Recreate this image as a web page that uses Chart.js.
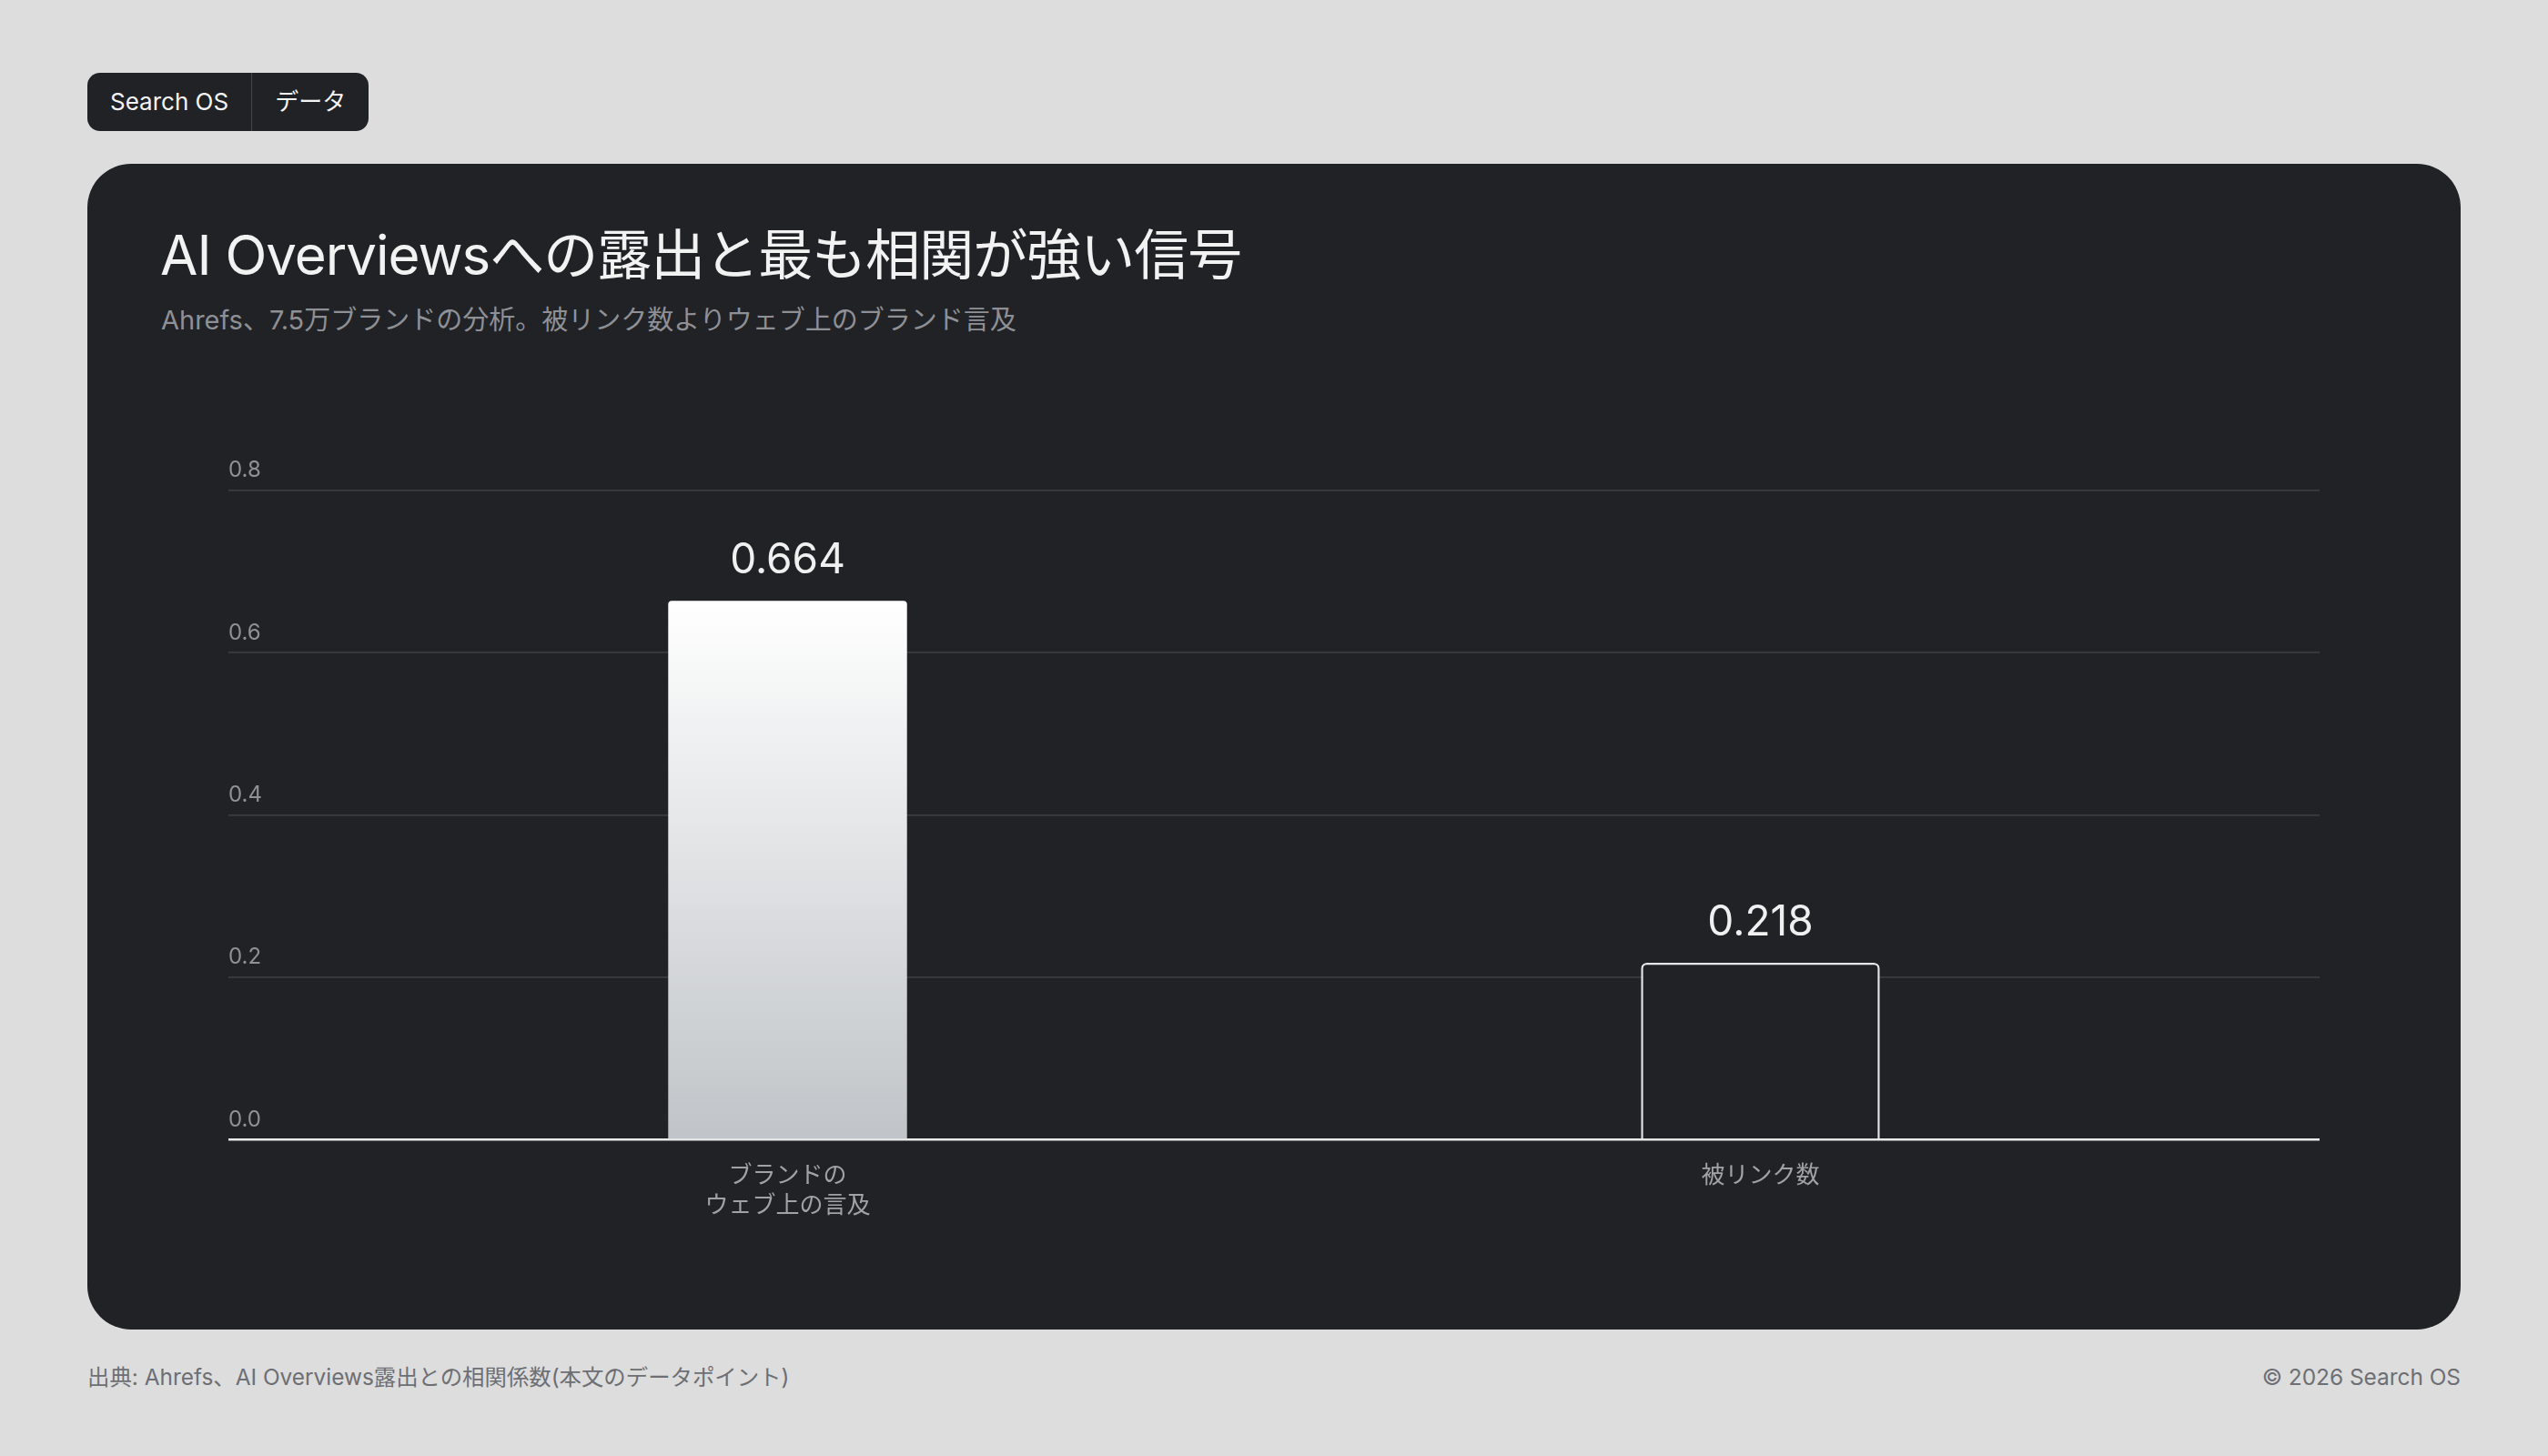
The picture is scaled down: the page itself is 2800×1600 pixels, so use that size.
<!DOCTYPE html>
<html lang="ja">
<head>
<meta charset="utf-8">
<script src="https://cdn.jsdelivr.net/npm/chart.js"></script>
<style>
  html, body { margin: 0; padding: 0; }
  body {
    width: 2800px; height: 1600px; position: relative; overflow: hidden;
    background: #dddddd;
    font-family: Inter, "Noto Sans CJK JP", sans-serif;
  }
  .badge {
    position: absolute; left: 96px; top: 80px; height: 64px;
    display: flex; background: #212226; border-radius: 14px;
    color: #f4f4f4; font-size: 26px; line-height: 64px;
  }
  .badge span { padding: 0 25px; }
  .badge span + span { border-left: 1px solid #46474c; }
  .card {
    position: absolute; left: 96px; top: 180px; width: 2608px; height: 1281px;
    background: #212226; border-radius: 48px;
  }
  .title {
    position: absolute; left: 176px; top: 250px;
    font-size: 60px; line-height: 60px; letter-spacing: -1px; color: #f2f2f2;
    white-space: nowrap;
  }
  .sub {
    position: absolute; left: 177px; top: 337px;
    font-size: 29px; line-height: 29px; color: #8e9095; white-space: nowrap;
  }
  .chartbox { position: absolute; left: 251px; top: 479px; width: 2298px; height: 878px; }
  .foot {
    position: absolute; top: 1500px; font-size: 24.4px; line-height: 26px; color: #6d6f74;
    white-space: nowrap;
  }
</style>
</head>
<body>
<div class="badge"><span>Search OS</span><span>データ</span></div>
<div class="card"></div>
<div class="title">AI Overviewsへの露出と最も相関が強い信号</div>
<div class="sub">Ahrefs、7.5万ブランドの分析。被リンク数よりウェブ上のブランド言及</div>
<div class="chartbox"><canvas id="c"></canvas></div>
<div class="foot" style="left:96px">出典: Ahrefs、AI Overviews露出との相関係数(本文のデータポイント)</div>
<div class="foot" style="right:96px">© 2026 Search OS</div>

<script>
const categories = [['ブランドの', 'ウェブ上の言及'], '被リンク数'];
const correlation = [0.664, 0.218];
const yMin = 0;
const yMax = 0.8;
const yStep = 0.2;

const fontFam = 'Inter, "Noto Sans CJK JP", sans-serif';

function barFill(ctx) {
  if (ctx.dataIndex === 1) return '#212226';
  const chart = ctx.chart;
  const area = chart.chartArea;
  if (!area) return '#ffffff';
  const top = chart.scales.y.getPixelForValue(ctx.raw);
  const g = chart.ctx.createLinearGradient(0, top, 0, area.bottom);
  g.addColorStop(0, '#ffffff');
  g.addColorStop(1, '#c0c4c8');
  return g;
}

function gridCol(ctx) {
  return ctx.tick && ctx.tick.value === 0 ? '#e9e9e9' : '#3b3c41';
}
function gridW(ctx) {
  return ctx.tick && ctx.tick.value === 0 ? 2.6 : 1.8;
}

// numbers above the bars
const valueLabels = {
  id: 'valueLabels',
  afterDatasetsDraw(chart) {
    const c = chart.ctx;
    const meta = chart.getDatasetMeta(0);
    c.save();
    c.font = '400 46px ' + fontFam;
    c.fillStyle = '#f0f0f0';
    c.textAlign = 'center';
    c.textBaseline = 'alphabetic';
    meta.data.forEach((bar, i) => {
      c.fillText(correlation[i].toFixed(3), bar.x, bar.y - 30);
    });
    c.restore();
  }
};

new Chart(document.getElementById('c'), {
  type: 'bar',
  data: {
    labels: categories,
    datasets: [{
      data: correlation,
      backgroundColor: barFill,
      borderColor: ['rgba(0,0,0,0)', '#e6e6e6'],
      borderWidth: [0, 2.5],
      borderRadius: [4, 6],
      barPercentage: 0.2455,
      categoryPercentage: 1
    }]
  },
  options: {
    responsive: true,
    maintainAspectRatio: false,
    animation: false,
    layout: { padding: { top: 60, bottom: 0, left: 0, right: 0 } },
    plugins: { legend: { display: false }, tooltip: { enabled: false } },
    scales: {
      x: {
        offset: true,
        grid: { display: false },
        border: { display: false },
        ticks: {
          color: '#a0a2a7',
          padding: 15,
          font: { family: fontFam, size: 26, lineHeight: 1.28 }
        }
      },
      y: {
        position: 'left',
        min: yMin, max: yMax,
        border: { display: false },
        grid: { color: gridCol, lineWidth: gridW, drawTicks: true, tickLength: 80 },
        ticks: {
          stepSize: yStep,
          crossAlign: 'far',
          labelOffset: -22,
          color: '#8f9196',
          font: { family: fontFam, size: 24 },
          callback: v => Number(v).toFixed(1)
        },
        afterFit: s => { s.width = 80; }
      },
      y2: {
        position: 'right',
        min: yMin, max: yMax,
        border: { display: false },
        grid: { color: gridCol, lineWidth: gridW, drawOnChartArea: false, drawTicks: true, tickLength: 80 },
        ticks: { stepSize: yStep, display: false },
        afterFit: s => { s.width = 80; }
      }
    }
  },
  plugins: [valueLabels]
});
</script>
</body>
</html>
